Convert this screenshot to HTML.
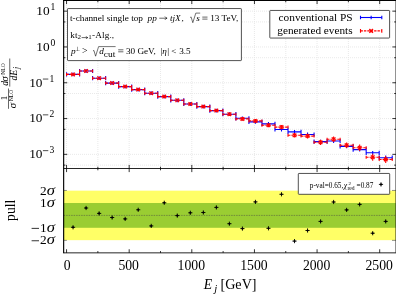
<!DOCTYPE html>
<html><head><meta charset="utf-8"><title>plot</title>
<style>html,body{margin:0;padding:0;background:#fff;}body{width:396px;height:296px;overflow:hidden;font-family:"Liberation Serif",serif;}svg{display:block;will-change:transform;}</style></head>
<body>
<svg width="396" height="296" viewBox="0 0 396 296">
<rect x="0" y="0" width="396" height="296" fill="#fff"/>
<rect x="63.65" y="190.64" width="332.35" height="49.52" fill="#ffff66"/>
<rect x="63.65" y="203.02" width="332.35" height="24.76" fill="#9acd32"/>
<line x1="63.65" y1="215.4" x2="396" y2="215.4" stroke="#444" stroke-width="0.5" stroke-dasharray="1.5,1"/>
<path d="M66.55 1V168 M97.86 1V168 M129.18 1V168 M160.5 1V168 M191.81 1V168 M223.12 1V168 M254.44 1V168 M285.75 1V168 M317.07 1V168 M348.39 1V168 M379.7 1V168 M64 11.15H396 M64 46.95H396 M64 21.93H396 M64 82.75H396 M64 57.73H396 M64 118.55H396 M64 93.53H396 M64 154.35H396 M64 129.33H396 M64 165.13H396" stroke="#e6e6e6" stroke-width="0.9" stroke-dasharray="1,1" fill="none"/>
<path d="M66.55 74.4H79.58 M66.55 72.3V76.5 M79.58 72.3V76.5 M73.06 72.5V76.3 M79.58 71H92.6 M79.58 68.9V73.1 M92.6 68.9V73.1 M86.09 69.1V72.9 M92.6 78.2H105.63 M92.6 76.1V80.3 M105.63 76.1V80.3 M99.12 76.3V80.1 M105.63 83.1H118.66 M105.63 81V85.2 M118.66 81V85.2 M112.14 81.2V85 M118.66 86.6H131.69 M118.66 84.5V88.7 M131.69 84.5V88.7 M125.17 84.7V88.5 M131.69 89.6H144.71 M131.69 87.5V91.7 M144.71 87.5V91.7 M138.2 87.7V91.5 M144.71 93.2H157.74 M144.71 91.1V95.3 M157.74 91.1V95.3 M151.23 91.3V95.1 M157.74 96.6H170.77 M157.74 94.5V98.7 M170.77 94.5V98.7 M164.25 94.7V98.5 M170.77 100.3H183.79 M170.77 98.2V102.4 M183.79 98.2V102.4 M177.28 98.4V102.2 M183.79 104H196.82 M183.79 101.9V106.1 M196.82 101.9V106.1 M190.31 102.1V105.9 M196.82 106.6H209.85 M196.82 104.5V108.7 M209.85 104.5V108.7 M203.33 104.7V108.5 M209.85 110.6H222.87 M209.85 108.5V112.7 M222.87 108.5V112.7 M216.36 108.7V112.5 M222.87 114.2H235.9 M222.87 112.1V116.3 M235.9 112.1V116.3 M229.39 112.3V116.1 M235.9 118.3H248.93 M235.9 116.2V120.4 M248.93 116.2V120.4 M242.42 116.4V120.2 M248.93 121.9H261.96 M248.93 119.8V124 M261.96 119.8V124 M255.44 120V123.8 M261.96 123.9H274.98 M261.96 121.8V126 M274.98 121.8V126 M268.47 122V125.8 M274.98 129.5H288.01 M274.98 127.4V131.6 M288.01 127.4V131.6 M281.5 127.6V131.4 M288.01 131.9H301.04 M288.01 129.8V134 M301.04 129.8V134 M294.52 130V133.8 M301.04 134.5H314.06 M301.04 132.4V136.6 M314.06 132.4V136.6 M307.55 132.6V136.4 M314.06 141.6H327.09 M314.06 139.5V143.7 M327.09 139.5V143.7 M320.58 139.7V143.5 M327.09 141H340.12 M327.09 138.9V143.1 M340.12 138.9V143.1 M333.6 139.1V142.9 M340.12 146.4H353.14 M340.12 144.3V148.5 M353.14 144.3V148.5 M346.63 144.5V148.3 M353.14 149.6H366.17 M353.14 147.5V151.7 M366.17 147.5V151.7 M359.66 147.7V151.5 M366.17 152.8H379.2 M366.17 150.7V154.9 M379.2 150.7V154.9 M372.69 150.9V154.7 M379.2 157.7H392.23 M379.2 155.6V159.8 M392.23 155.6V159.8 M385.71 155.5V159.9" stroke="#0000ff" stroke-width="1.1" fill="none"/>
<path d="M66.55 74.4H79.58 M79.58 71H92.6 M92.6 78.2H105.63 M105.63 83.1H118.66 M118.66 86.6H131.69 M131.69 89.6H144.71 M144.71 93.2H157.74 M157.74 96.6H170.77 M170.77 100.3H183.79 M183.79 104H196.82 M196.82 106.6H209.85 M209.85 110.6H222.87 M222.87 114.2H235.9 M235.9 118.9H248.93 M248.93 120.9H261.96 M261.96 125.2H274.98 M274.98 127.1H288.01 M288.01 135.3H301.04 M301.04 136.1H314.06 M314.06 142.3H327.09 M327.09 139.2H340.12 M340.12 145.2H353.14 M353.14 147.8H366.17 M366.17 157.2H379.2 M379.2 159.5H392.23" stroke="#ff0000" stroke-width="1.1" stroke-dasharray="2.4,1" fill="none"/>
<path d="M66.55 72.9V75.9 M79.58 72.9V75.9 M79.58 69.5V72.5 M92.6 69.5V72.5 M92.6 76.7V79.7 M105.63 76.7V79.7 M105.63 81.6V84.6 M118.66 81.6V84.6 M118.66 85.1V88.1 M131.69 85.1V88.1 M131.69 88.1V91.1 M144.71 88.1V91.1 M144.71 91.7V94.7 M157.74 91.7V94.7 M157.74 95.1V98.1 M170.77 95.1V98.1 M170.77 98.8V101.8 M183.79 98.8V101.8 M183.79 102.5V105.5 M196.82 102.5V105.5 M196.82 105.1V108.1 M209.85 105.1V108.1 M209.85 109.1V112.1 M222.87 109.1V112.1 M222.87 112.7V115.7 M235.9 112.7V115.7 M229.39 112.4V116 M235.9 117.4V120.4 M248.93 117.4V120.4 M242.42 117.1V120.7 M248.93 119.4V122.4 M261.96 119.4V122.4 M255.44 119V122.8 M261.96 123.7V126.7 M274.98 123.7V126.7 M268.47 123.2V127.2 M274.98 125.6V128.6 M288.01 125.6V128.6 M281.5 125V129.2 M288.01 133.8V136.8 M301.04 133.8V136.8 M294.52 133V137.6 M301.04 134.6V137.6 M314.06 134.6V137.6 M307.55 133.7V138.5 M314.06 140.8V143.8 M327.09 140.8V143.8 M320.58 139.7V144.9 M327.09 137.7V140.7 M340.12 137.7V140.7 M333.6 136.5V141.9 M340.12 143.7V146.7 M353.14 143.7V146.7 M346.63 142.4V148 M353.14 146.3V149.3 M366.17 146.3V149.3 M359.66 144.6V151 M366.17 155.7V158.7 M379.2 155.7V158.7 M372.69 153.7V160.7 M379.2 158V161 M392.23 158V161 M385.71 155.9V163.1" stroke="#ff0000" stroke-width="1.1" fill="none"/>
<path d="M71.26 72.6L74.86 76.2M71.26 76.2L74.86 72.6 M84.29 69.2L87.89 72.8M84.29 72.8L87.89 69.2 M97.32 76.4L100.92 80M97.32 80L100.92 76.4 M110.34 81.3L113.94 84.9M110.34 84.9L113.94 81.3 M123.37 84.8L126.97 88.4M123.37 88.4L126.97 84.8 M136.4 87.8L140 91.4M136.4 91.4L140 87.8 M149.43 91.4L153.03 95M149.43 95L153.03 91.4 M162.45 94.8L166.05 98.4M162.45 98.4L166.05 94.8 M175.48 98.5L179.08 102.1M175.48 102.1L179.08 98.5 M188.51 102.2L192.11 105.8M188.51 105.8L192.11 102.2 M201.53 104.8L205.13 108.4M201.53 108.4L205.13 104.8 M214.56 108.8L218.16 112.4M214.56 112.4L218.16 108.8 M227.59 112.4L231.19 116M227.59 116L231.19 112.4 M240.62 117.1L244.22 120.7M240.62 120.7L244.22 117.1 M253.64 119.1L257.24 122.7M253.64 122.7L257.24 119.1 M266.67 123.4L270.27 127M266.67 127L270.27 123.4 M279.7 125.3L283.3 128.9M279.7 128.9L283.3 125.3 M292.72 133.5L296.32 137.1M292.72 137.1L296.32 133.5 M305.75 134.3L309.35 137.9M305.75 137.9L309.35 134.3 M318.78 140.5L322.38 144.1M318.78 144.1L322.38 140.5 M331.8 137.4L335.4 141M331.8 141L335.4 137.4 M344.83 143.4L348.43 147M344.83 147L348.43 143.4 M357.86 146L361.46 149.6M357.86 149.6L361.46 146 M370.89 155.4L374.49 159M370.89 159L374.49 155.4 M383.91 157.7L387.51 161.3M383.91 161.3L387.51 157.7" stroke="#ff0000" stroke-width="1.3" fill="none"/>
<path d="M70.96 227.3H75.16M73.06 225.2V229.4 M83.99 208H88.19M86.09 205.9V210.1 M97.02 213.4H101.22M99.12 211.3V215.5 M110.04 217.5H114.24M112.14 215.4V219.6 M123.07 218.9H127.27M125.17 216.8V221 M136.1 209.8H140.3M138.2 207.7V211.9 M149.13 225.9H153.33M151.23 223.8V228 M162.15 202.8H166.35M164.25 200.7V204.9 M175.18 215.6H179.38M177.28 213.5V217.7 M188.21 212.8H192.41M190.31 210.7V214.9 M201.23 212.5H205.43M203.33 210.4V214.6 M214.26 207.4H218.46M216.36 205.3V209.5 M227.29 223.7H231.49M229.39 221.6V225.8 M240.32 228.6H244.52M242.42 226.5V230.7 M253.34 201.9H257.54M255.44 199.8V204 M266.37 228.3H270.57M268.47 226.2V230.4 M279.4 194.3H283.6M281.5 192.2V196.4 M292.42 241.1H296.62M294.52 239V243.2 M305.45 230.5H309.65M307.55 228.4V232.6 M318.48 221.4H322.68M320.58 219.3V223.5 M331.5 202H335.7M333.6 199.9V204.1 M344.53 209.9H348.73M346.63 207.8V212 M357.56 204.4H361.76M359.66 202.3V206.5 M370.59 233.2H374.79M372.69 231.1V235.3 M383.61 221.4H387.81M385.71 219.3V223.5" stroke="#000" stroke-width="0.9" fill="none"/>
<g fill="#000"><path d="M73.06 226l1.3 1.3l-1.3 1.3l-1.3 -1.3z"/><path d="M86.09 206.7l1.3 1.3l-1.3 1.3l-1.3 -1.3z"/><path d="M99.12 212.1l1.3 1.3l-1.3 1.3l-1.3 -1.3z"/><path d="M112.14 216.2l1.3 1.3l-1.3 1.3l-1.3 -1.3z"/><path d="M125.17 217.6l1.3 1.3l-1.3 1.3l-1.3 -1.3z"/><path d="M138.2 208.5l1.3 1.3l-1.3 1.3l-1.3 -1.3z"/><path d="M151.23 224.6l1.3 1.3l-1.3 1.3l-1.3 -1.3z"/><path d="M164.25 201.5l1.3 1.3l-1.3 1.3l-1.3 -1.3z"/><path d="M177.28 214.3l1.3 1.3l-1.3 1.3l-1.3 -1.3z"/><path d="M190.31 211.5l1.3 1.3l-1.3 1.3l-1.3 -1.3z"/><path d="M203.33 211.2l1.3 1.3l-1.3 1.3l-1.3 -1.3z"/><path d="M216.36 206.1l1.3 1.3l-1.3 1.3l-1.3 -1.3z"/><path d="M229.39 222.4l1.3 1.3l-1.3 1.3l-1.3 -1.3z"/><path d="M242.42 227.3l1.3 1.3l-1.3 1.3l-1.3 -1.3z"/><path d="M255.44 200.6l1.3 1.3l-1.3 1.3l-1.3 -1.3z"/><path d="M268.47 227l1.3 1.3l-1.3 1.3l-1.3 -1.3z"/><path d="M281.5 193l1.3 1.3l-1.3 1.3l-1.3 -1.3z"/><path d="M294.52 239.8l1.3 1.3l-1.3 1.3l-1.3 -1.3z"/><path d="M307.55 229.2l1.3 1.3l-1.3 1.3l-1.3 -1.3z"/><path d="M320.58 220.1l1.3 1.3l-1.3 1.3l-1.3 -1.3z"/><path d="M333.6 200.7l1.3 1.3l-1.3 1.3l-1.3 -1.3z"/><path d="M346.63 208.6l1.3 1.3l-1.3 1.3l-1.3 -1.3z"/><path d="M359.66 203.1l1.3 1.3l-1.3 1.3l-1.3 -1.3z"/><path d="M372.69 231.9l1.3 1.3l-1.3 1.3l-1.3 -1.3z"/><path d="M385.71 220.1l1.3 1.3l-1.3 1.3l-1.3 -1.3z"/></g>
<path d="M63.65 0.5H396V252.85H63.65 M63.65 168.5H396" stroke="#1a1a1a" stroke-width="0.95" fill="none"/>
<path d="M63.65 0V253.3" stroke="#000" stroke-width="1.15" fill="none"/>
<path d="M63.1 0.5H396" stroke="#000" stroke-width="1" fill="none"/>
<path d="M66.55 0.5v3.6 M66.55 168.5v-3.6 M66.55 168.5v3.6 M66.55 252.85v-3.6 M97.86 0.5v1.8 M97.86 168.5v-1.8 M97.86 168.5v1.8 M97.86 252.85v-1.8 M129.18 0.5v3.6 M129.18 168.5v-3.6 M129.18 168.5v3.6 M129.18 252.85v-3.6 M160.5 0.5v1.8 M160.5 168.5v-1.8 M160.5 168.5v1.8 M160.5 252.85v-1.8 M191.81 0.5v3.6 M191.81 168.5v-3.6 M191.81 168.5v3.6 M191.81 252.85v-3.6 M223.12 0.5v1.8 M223.12 168.5v-1.8 M223.12 168.5v1.8 M223.12 252.85v-1.8 M254.44 0.5v3.6 M254.44 168.5v-3.6 M254.44 168.5v3.6 M254.44 252.85v-3.6 M285.75 0.5v1.8 M285.75 168.5v-1.8 M285.75 168.5v1.8 M285.75 252.85v-1.8 M317.07 0.5v3.6 M317.07 168.5v-3.6 M317.07 168.5v3.6 M317.07 252.85v-3.6 M348.39 0.5v1.8 M348.39 168.5v-1.8 M348.39 168.5v1.8 M348.39 252.85v-1.8 M379.7 0.5v3.6 M379.7 168.5v-3.6 M379.7 168.5v3.6 M379.7 252.85v-3.6 M63.65 11.15h3.6 M396 11.15h-3.6 M63.65 46.95h3.6 M396 46.95h-3.6 M63.65 21.93h1.8 M396 21.93h-1.8 M63.65 82.75h3.6 M396 82.75h-3.6 M63.65 57.73h1.8 M396 57.73h-1.8 M63.65 118.55h3.6 M396 118.55h-3.6 M63.65 93.53h1.8 M396 93.53h-1.8 M63.65 154.35h3.6 M396 154.35h-3.6 M63.65 129.33h1.8 M396 129.33h-1.8 M63.65 165.13h1.8 M396 165.13h-1.8" stroke="#000" stroke-width="0.8" fill="none"/>
<path d="M63.65 190.44h3.2M63.65 240.36h3.2M396 190.44h-4M396 240.36h-4" stroke="#222" stroke-width="0.5" fill="none"/>
<rect x="67.5" y="8.55" width="173.9" height="52.05" rx="0.6" fill="#fff" stroke="#333" stroke-width="0.85"/>
<rect x="269.8" y="10.45" width="119.8" height="27.6" rx="0.6" fill="#fff" stroke="#333" stroke-width="0.85"/>
<rect x="298.3" y="173.45" width="91.4" height="20.85" rx="0.6" fill="#fff" stroke="#333" stroke-width="0.85"/>
<path d="M360.5 17.5H381.8" stroke="#0000ff" stroke-width="1.1" fill="none"/><path d="M360.5 15.7V19.3M381.8 15.7V19.3M371.15 15.7V19.3" stroke="#0000ff" stroke-width="1.1" fill="none"/>
<path d="M360.5 30.9H381.8" stroke="#ff0000" stroke-width="1.1" fill="none" stroke-dasharray="2.4,1"/><path d="M369.35 29.1L372.95 32.7M369.35 32.7L372.95 29.1" stroke="#ff0000" stroke-width="1.5" fill="none"/><path d="M360.5 29.1V32.7M381.8 29.1V32.7" stroke="#ff0000" stroke-width="1.1" fill="none"/>
<path d="M378.9 184.4H383.1M381 182.3V186.5" stroke="#000" stroke-width="0.9" fill="none"/><path d="M381 183.1l1.3 1.3l-1.3 1.3l-1.3 -1.3z"/>
<g font-family="Liberation Serif, serif" fill="#000">
<text x="67.05" y="269.8" font-size="13.7" text-anchor="middle">0</text>
<text x="128.68" y="269.8" font-size="13.7" text-anchor="middle">500</text>
<text x="191.31" y="269.8" font-size="13.7" text-anchor="middle">1000</text>
<text x="253.94" y="269.8" font-size="13.7" text-anchor="middle">1500</text>
<text x="316.57" y="269.8" font-size="13.7" text-anchor="middle">2000</text>
<text x="379.2" y="269.8" font-size="13.7" text-anchor="middle">2500</text>
<text x="55.4" y="14.95" font-size="13.3" text-anchor="end">10<tspan dy="-4.9" dx="1.0" font-size="9.6">1</tspan></text>
<text x="55.4" y="50.75" font-size="13.3" text-anchor="end">10<tspan dy="-4.9" dx="1.0" font-size="9.6">0</tspan></text>
<text x="42.5" y="86.55" font-size="13.3" text-anchor="end">10</text>
<path d="M42.9 79.05H48.3" stroke="#000" stroke-width="0.7"/>
<text x="49.4" y="81.65" font-size="9.6">1</text>
<text x="42.5" y="122.35" font-size="13.3" text-anchor="end">10</text>
<path d="M42.9 114.85H48.3" stroke="#000" stroke-width="0.7"/>
<text x="49.4" y="117.45" font-size="9.6">2</text>
<text x="42.5" y="158.15" font-size="13.3" text-anchor="end">10</text>
<path d="M42.9 150.65H48.3" stroke="#000" stroke-width="0.7"/>
<text x="49.4" y="153.25" font-size="9.6">3</text>
<text x="46.6" y="194.54" font-size="13.3" text-anchor="end">2</text><text x="46.8" y="194.54" font-size="14.5" font-style="italic" textLength="8.2" lengthAdjust="spacingAndGlyphs">σ</text>
<text x="46.6" y="206.92" font-size="13.3" text-anchor="end">1</text><text x="46.8" y="206.92" font-size="14.5" font-style="italic" textLength="8.2" lengthAdjust="spacingAndGlyphs">σ</text>
<text x="46.6" y="231.68" font-size="13.3" text-anchor="end">1</text><text x="46.8" y="231.68" font-size="14.5" font-style="italic" textLength="8.2" lengthAdjust="spacingAndGlyphs">σ</text>
<path d="M31.6 228.38H39" stroke="#000" stroke-width="0.8"/>
<text x="46.6" y="244.06" font-size="13.3" text-anchor="end">2</text><text x="46.8" y="244.06" font-size="14.5" font-style="italic" textLength="8.2" lengthAdjust="spacingAndGlyphs">σ</text>
<path d="M31.6 240.76H39" stroke="#000" stroke-width="0.8"/>
<text x="203.7" y="289.3" font-size="13.7" font-style="italic">E</text>
<text x="214.2" y="291.6" font-size="10.8" font-style="italic">j</text>
<text x="220.5" y="289.3" font-size="14.1">[GeV]</text>
<text transform="translate(15 220.9) rotate(-90)" font-size="13.7">pull</text>
<text x="352.6" y="20.5" font-size="11.35" text-anchor="end">conventional PS</text>
<text x="352.6" y="34.0" font-size="11.25" text-anchor="end">generated events</text>
<text x="70" y="21.1" font-size="9.25">t-channel single top</text>
<text x="147.6" y="21.1" font-size="9.2" font-style="italic">pp</text>
<path d="M159.3 18.2H166.9M164.9 16.5Q165.6 17.8 167.1 18.2Q165.6 18.6 164.9 19.9" stroke="#000" stroke-width="0.6" fill="none"/>
<text x="170" y="21.1" font-size="9.2" font-style="italic">tjX</text>
<text x="181.6" y="21.1" font-size="9.2">,</text>
<path d="M190.2 17.5l0.9 -0.6L192.8 22.7L195.8 13.1H200.2" stroke="#000" stroke-width="0.55" fill="none" stroke-linejoin="miter"/>
<text x="196.2" y="21.1" font-size="9.2" font-style="italic">s</text>
<path d="M202.3 19.1h5.2M202.3 17.1h5.2" stroke="#000" stroke-width="0.6"/>
<text x="210.2" y="21.1" font-size="9.2">13 TeV,</text>
<text x="70.3" y="37.7" font-size="9.2">kt</text>
<text x="77.5" y="39.4" font-size="7">2</text>
<path d="M81.6 37.6H87.6M86.1 36.3Q86.6 37.3 87.8 37.6Q86.6 37.9 86.1 38.9" stroke="#000" stroke-width="0.6" fill="none"/>
<text x="88.3" y="39.4" font-size="7">1</text>
<text x="92.1" y="37.7" font-size="9.2" letter-spacing="0.12">-Alg.,</text>
<text x="71" y="53.8" font-size="9.2" font-style="italic">p</text>
<text x="74.5" y="51.4" font-size="6.0">⊥</text>
<text x="82" y="54" font-size="9.8">&gt;</text>
<path d="M93 51l0.9 -0.6L95.6 56.2L98.6 46.6H115.6" stroke="#000" stroke-width="0.55" fill="none" stroke-linejoin="miter"/>
<text x="99.3" y="53.8" font-size="9.2" font-style="italic">d</text>
<text x="103.7" y="56.6" font-size="8.6" textLength="11.6" lengthAdjust="spacingAndGlyphs">cut</text>
<path d="M118.2 51.8h5.2M118.2 49.8h5.2" stroke="#000" stroke-width="0.6"/>
<text x="125.9" y="53.8" font-size="9.2">30 GeV,</text>
<text x="160.6" y="53.8" font-size="9.2">|</text>
<text x="162.2" y="53.8" font-size="9.2" font-style="italic">η</text>
<text x="167.2" y="53.8" font-size="9.2">|</text>
<text x="171.2" y="53.8" font-size="9.2">&lt;</text>
<text x="179.2" y="53.8" font-size="9.2">3.5</text>
<text x="309.8" y="187.5" font-size="7.25">p-val=0.65,</text>
<text x="343.7" y="187.5" font-size="7.6" font-style="italic">χ</text>
<text x="348.5" y="184.6" font-size="5">2</text>
<text x="347.5" y="190.1" font-size="5.6">red</text>
<text x="356.6" y="187.5" font-size="7.25">=0.87</text>
<text transform="translate(7.1 100.3) rotate(-90)" font-size="9.0">1</text>
<text transform="translate(15.5 108.2) rotate(-90)" font-size="10.8" font-style="italic">σ</text>
<text transform="translate(12.7 101.2) rotate(-90)" font-size="5.6">NLO</text>
<path d="M8.5 88.5V108.8" stroke="#000" stroke-width="0.6"/>
<text transform="translate(8 85.8) rotate(-90)" font-size="9.7" font-style="italic">d</text>
<text transform="translate(8.1 81.4) rotate(-90)" font-size="10.8" font-style="italic">σ</text>
<text transform="translate(4.6 74.8) rotate(-90)" font-size="5.6">NLO</text>
<text transform="translate(17.3 80.6) rotate(-90)" font-size="9.7" font-style="italic">dE</text>
<text transform="translate(18.8 69) rotate(-90)" font-size="8" font-style="italic">j</text>
<path d="M9.75 58.5V86.6" stroke="#000" stroke-width="0.6"/>
</g>
</svg>
</body></html>
